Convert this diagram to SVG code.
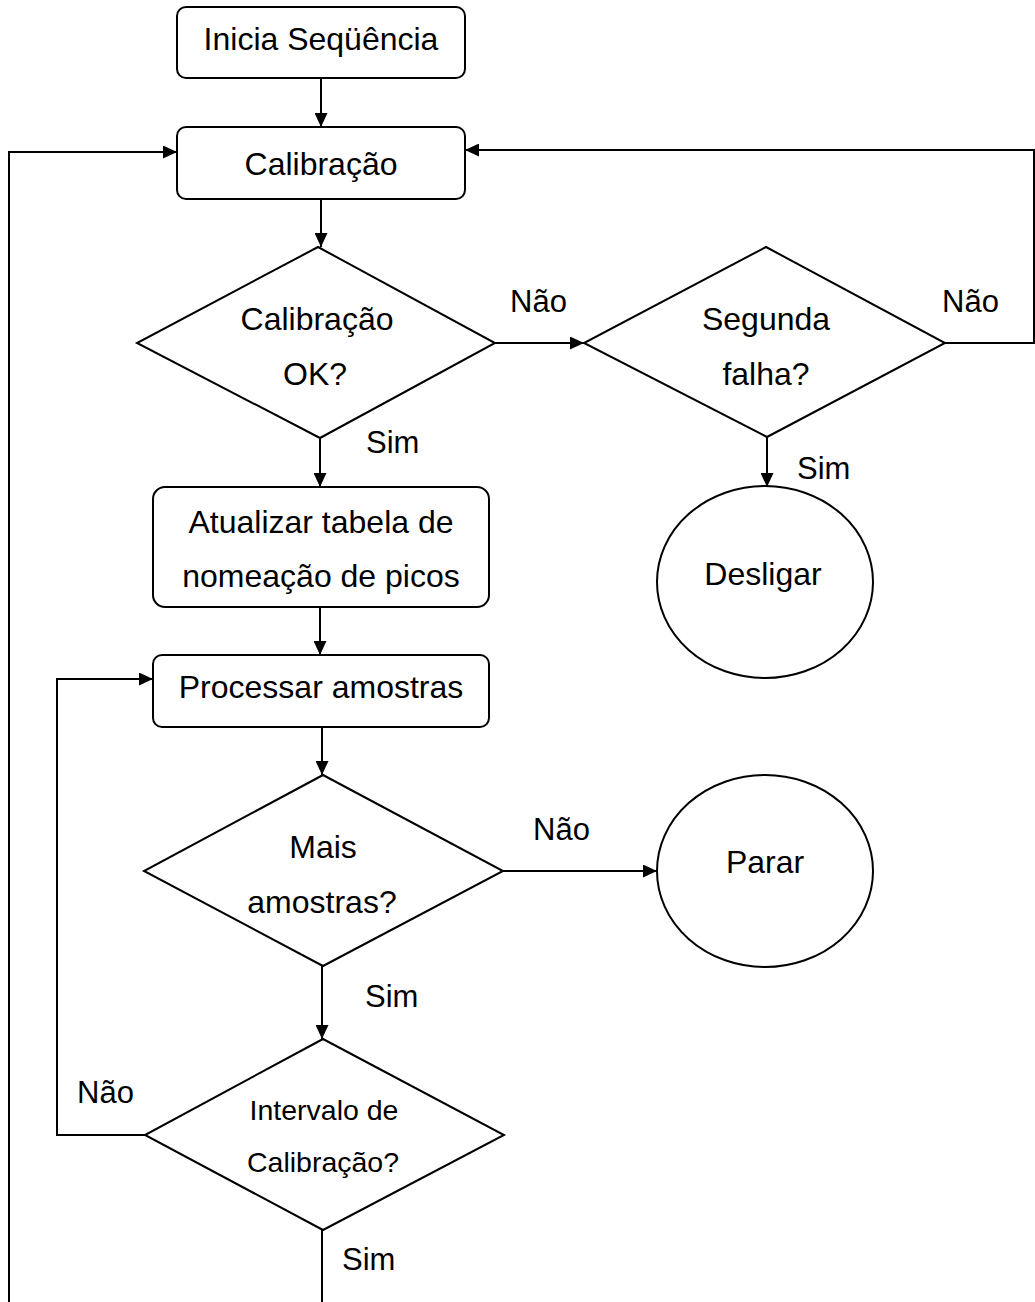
<svg xmlns="http://www.w3.org/2000/svg" width="1035" height="1302" viewBox="0 0 1035 1302">
<style>
.shape{fill:#fff;stroke:#000;stroke-width:2}
.line{fill:none;stroke:#000;stroke-width:2}
.t{font-family:"Liberation Sans",Arial,sans-serif;font-size:32px;fill:#000;text-anchor:middle}
.s{font-size:28.5px}
.lbl{font-family:"Liberation Sans",Arial,sans-serif;font-size:31px;fill:#000}
</style>
<defs>
<marker id="arr" markerUnits="userSpaceOnUse" markerWidth="14" markerHeight="13" refX="14" refY="6.5" orient="auto">
<path d="M0,0 L14,6.5 L0,13 Z" fill="#000"/>
</marker>
</defs>
<rect width="1035" height="1302" fill="#fff"/>
<g id="connectors">
<line class="line" x1="321" y1="78" x2="321" y2="127" marker-end="url(#arr)"/>
<line class="line" x1="321" y1="199" x2="321" y2="247" marker-end="url(#arr)"/>
<polyline class="line" points="9,1302 9,152 177,152" marker-end="url(#arr)"/>
<polyline class="line" points="945,343 1034,343 1034,150 465,150" marker-end="url(#arr)"/>
<line class="line" x1="495" y1="343" x2="584" y2="343" marker-end="url(#arr)"/>
<line class="line" x1="767" y1="437" x2="767" y2="487" marker-end="url(#arr)"/>
<line class="line" x1="320" y1="438" x2="320" y2="487" marker-end="url(#arr)"/>
<line class="line" x1="320" y1="607" x2="320" y2="655" marker-end="url(#arr)"/>
<line class="line" x1="322" y1="727" x2="322" y2="775" marker-end="url(#arr)"/>
<line class="line" x1="503" y1="871" x2="657" y2="871" marker-end="url(#arr)"/>
<line class="line" x1="322" y1="966" x2="322" y2="1039" marker-end="url(#arr)"/>
<polyline class="line" points="145,1135 57,1135 57,679 153,679" marker-end="url(#arr)"/>
<line class="line" x1="322" y1="1230" x2="322" y2="1302"/>
<text class="lbl" x="510" y="312">Não</text>
<text class="lbl" x="942" y="312">Não</text>
<text class="lbl" x="366" y="453">Sim</text>
<text class="lbl" x="797" y="479">Sim</text>
<text class="lbl" x="533" y="840">Não</text>
<text class="lbl" x="365" y="1007">Sim</text>
<text class="lbl" x="77" y="1103">Não</text>
<text class="lbl" x="342" y="1270">Sim</text>
</g>
<g id="inicia">
<rect class="shape" x="177" y="7" width="288" height="71" rx="9"/>
<text class="t" x="321" y="50">Inicia Seqüência</text>
</g>
<g id="calibracao">
<rect class="shape" x="177" y="127" width="288" height="72" rx="9"/>
<text class="t" x="321" y="175">Calibração</text>
</g>
<g id="calibracao-ok">
<polygon class="shape" points="318,247 495,343 320,438 137,343"/>
<text class="t" x="317" y="330">Calibração</text>
<text class="t" x="315" y="385">OK?</text>
</g>
<g id="segunda-falha">
<polygon class="shape" points="766,247 945,343 767,437 584,343"/>
<text class="t" x="766" y="330">Segunda</text>
<text class="t" x="766" y="385">falha?</text>
</g>
<g id="desligar">
<ellipse class="shape" cx="765" cy="582" rx="108" ry="96"/>
<text class="t" x="763" y="585">Desligar</text>
</g>
<g id="atualizar">
<rect class="shape" x="153" y="487" width="336" height="120" rx="12"/>
<text class="t" x="321" y="533">Atualizar tabela de</text>
<text class="t" x="321" y="587">nomeação de picos</text>
</g>
<g id="processar">
<rect class="shape" x="153" y="655" width="336" height="72" rx="9"/>
<text class="t" x="321" y="698">Processar amostras</text>
</g>
<g id="mais-amostras">
<polygon class="shape" points="323,775 503,871 323,966 144,871"/>
<text class="t" x="323" y="858">Mais</text>
<text class="t" x="322" y="913">amostras?</text>
</g>
<g id="parar">
<ellipse class="shape" cx="765" cy="871" rx="108" ry="96"/>
<text class="t" x="765" y="873">Parar</text>
</g>
<g id="intervalo">
<polygon class="shape" points="323,1039 504,1135 323,1230 145,1135"/>
<text class="t s" x="324" y="1120">Intervalo de</text>
<text class="t s" x="323" y="1172">Calibração?</text>
</g>
</svg>
